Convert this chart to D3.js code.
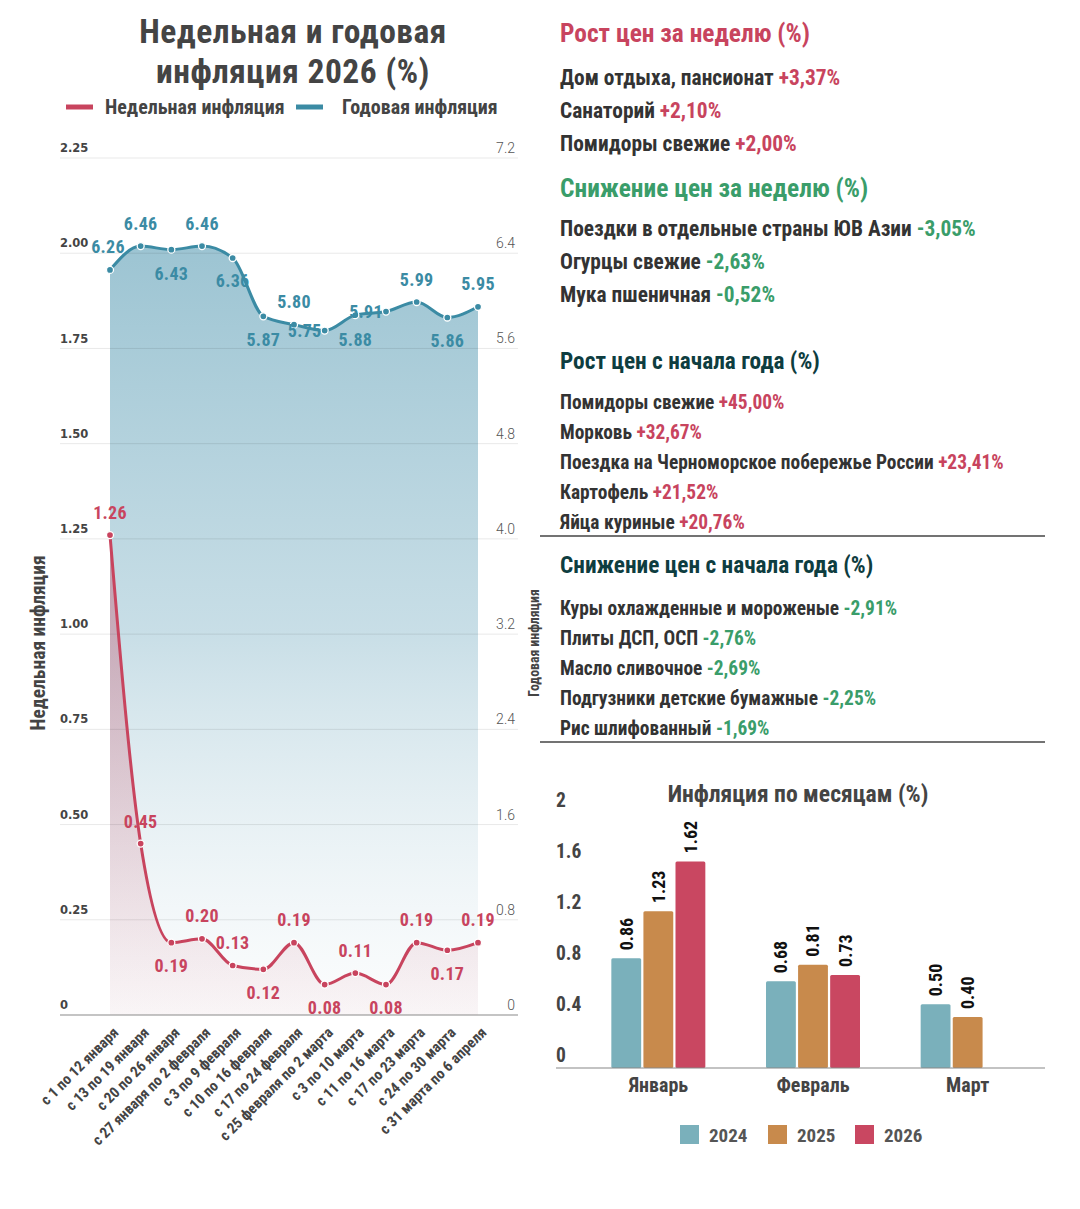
<!DOCTYPE html>
<html><head><meta charset="utf-8">
<script src="https://cdn.jsdelivr.net/npm/d3@7/dist/d3.min.js"></script>
<style>html,body{margin:0;padding:0;background:#fff;}svg{display:block;}</style>
</head><body>
<svg id="c" width="1080" height="1209"></svg>
<script>
// ---------- DATA ----------
const weeks = ["с 1 по 12 января","с 13 по 19 января","с 20 по 26 января","с 27 января по 2 февраля","с 3 по 9 февраля","с 10 по 16 февраля","с 17 по 24 февраля","с 25 февраля по 2 марта","с 3 по 10 марта","с 11 по 16 марта","с 17 по 23 марта","с 24 по 30 марта","с 31 марта по 6 апреля"];
const weekly = [1.26,0.45,0.19,0.20,0.13,0.12,0.19,0.08,0.11,0.08,0.19,0.17,0.19];
const annual = [6.26,6.46,6.43,6.46,6.36,5.87,5.80,5.75,5.88,5.91,5.99,5.86,5.95];
const weeklyTicks = [0,0.25,0.5,0.75,1,1.25,1.5,1.75,2,2.25];
const weeklyTickLabels = ["0","0.25","0.50","0.75","1.00","1.25","1.50","1.75","2.00","2.25"];
const annualTicks = [0,0.8,1.6,2.4,3.2,4.0,4.8,5.6,6.4,7.2];
const annualTickLabels = ["0","0.8","1.6","2.4","3.2","4.0","4.8","5.6","6.4","7.2"];

const months = ["Январь","Февраль","Март"];
const years = ["2024","2025","2026"];
const monthly2024 = [0.86,0.68,0.50];
const monthly2025 = [1.23,0.81,0.40];
const monthly2026 = [1.62,0.73,null];
const monthTicks = [0,0.4,0.8,1.2,1.6,2];
const monthTickLabels = ["0","0.4","0.8","1.2","1.6","2"];

const weekUpTitle = "Рост цен за неделю (%)";
const weekUpNames = ["Дом отдыха, пансионат","Санаторий","Помидоры свежие"];
const weekUpVals = ["+3,37%","+2,10%","+2,00%"];
const weekDownTitle = "Снижение цен за неделю (%)";
const weekDownNames = ["Поездки в отдельные страны ЮВ Азии","Огурцы свежие","Мука пшеничная"];
const weekDownVals = ["-3,05%","-2,63%","-0,52%"];
const yearUpTitle = "Рост цен с начала года (%)";
const yearUpNames = ["Помидоры свежие","Морковь","Поездка на Черноморское побережье России","Картофель","Яйца куриные"];
const yearUpVals = ["+45,00%","+32,67%","+23,41%","+21,52%","+20,76%"];
const yearDownTitle = "Снижение цен с начала года (%)";
const yearDownNames = ["Куры охлажденные и мороженые","Плиты ДСП, ОСП","Масло сливочное","Подгузники детские бумажные","Рис шлифованный"];
const yearDownVals = ["-2,91%","-2,76%","-2,69%","-2,25%","-1,69%"];

// ---------- FONT PICK ----------
function pick(cands, weight){
  const c=document.createElement('canvas').getContext('2d');
  const t='Недельная инфляция 0123456789';
  c.font=weight+' 40px monospace'; const b1=c.measureText(t).width;
  c.font=weight+' 40px serif'; const b2=c.measureText(t).width;
  for(const f of cands){
    c.font=weight+' 40px "'+f+'", monospace'; const w1=c.measureText(t).width;
    c.font=weight+' 40px "'+f+'", serif'; const w2=c.measureText(t).width;
    if(Math.abs(w1-w2)<0.5 && (Math.abs(w1-b1)>0.5)) return f;
  }
  return cands[cands.length-1];
}
const COND = pick(["Roboto Condensed","Liberation Sans Narrow","Arial Narrow","DejaVu Sans Condensed","Roboto"],"bold");
const CF = '"'+COND+'", "Roboto", sans-serif';
const WIDE = '"DejaVu Sans", Verdana, sans-serif';
const LIGHT = '"Roboto", "Liberation Sans", sans-serif';

const RED="#c8445e", BLUE="#3b8ba4", GREEN="#3a9d6a", DARK="#444", TEAL="#0e3d40";
const C2024="#7ab0bb", C2025="#c88a4c", C2026="#c94761";

const svg=d3.select("#c");
const defs=svg.append("defs");

// ---------- LEFT CHART ----------
const x=d3.scalePoint().domain(weeks).range([110,478]);
const yW=d3.scaleLinear().domain([0,2.25]).range([1015,158]);
const yA=d3.scaleLinear().domain([0,7.2]).range([1015,158]);

svg.append("text").attr("x",293).attr("y",31).attr("dy","0.36em").attr("text-anchor","middle")
  .style("font-family",CF).style("font-weight","bold").style("font-size","33.5px").style("letter-spacing","0.5px").attr("fill",DARK).text("Недельная и годовая");
svg.append("text").attr("x",293).attr("y",71).attr("dy","0.36em").attr("text-anchor","middle")
  .style("font-family",CF).style("font-weight","bold").style("font-size","33.5px").style("letter-spacing","0.5px").attr("fill",DARK).text("инфляция 2026 (%)");

// legend
const lg=svg.append("g");
lg.append("line").attr("x1",66).attr("x2",93).attr("y1",107).attr("y2",107).attr("stroke",RED).attr("stroke-width",5);
lg.append("text").attr("x",105).attr("y",107).attr("dy","0.36em").style("font-family",CF).style("font-weight","bold").style("font-size","20px").attr("fill",DARK).text("Недельная инфляция");
lg.append("line").attr("x1",296).attr("x2",323).attr("y1",107).attr("y2",107).attr("stroke",BLUE).attr("stroke-width",5);
lg.append("text").attr("x",342).attr("y",107).attr("dy","0.36em").style("font-family",CF).style("font-weight","bold").style("font-size","20px").attr("fill",DARK).text("Годовая инфляция");

// gradients
const gA=defs.append("linearGradient").attr("id","gA").attr("gradientUnits","userSpaceOnUse").attr("x1",0).attr("x2",0).attr("y1",yA(6.46)).attr("y2",yA(0));
gA.append("stop").attr("offset",0).attr("stop-color","#97c1d0").attr("stop-opacity",0.95);
gA.append("stop").attr("offset",0.5).attr("stop-color","#bed8e2").attr("stop-opacity",0.85);
gA.append("stop").attr("offset",1).attr("stop-color","#f6f9fa").attr("stop-opacity",0.4);
const gW=defs.append("linearGradient").attr("id","gW").attr("gradientUnits","userSpaceOnUse").attr("x1",0).attr("x2",0).attr("y1",yW(1.26)).attr("y2",yW(0));
gW.append("stop").attr("offset",0).attr("stop-color",RED).attr("stop-opacity",0.4);
gW.append("stop").attr("offset",1).attr("stop-color",RED).attr("stop-opacity",0.04);

const curve=d3.curveMonotoneX;
svg.append("path").datum(annual).attr("fill","url(#gA)")
  .attr("d",d3.area().x((d,i)=>x(weeks[i])).y0(yA(0)).y1(d=>yA(d)).curve(curve));
svg.append("path").datum(weekly).attr("fill","url(#gW)")
  .attr("d",d3.area().x((d,i)=>x(weeks[i])).y0(yW(0)).y1(d=>yW(d)).curve(curve));

// gridlines (over the fills)
svg.append("g").selectAll("line").data(weeklyTicks.slice(1)).join("line")
  .attr("x1",60).attr("x2",518).attr("y1",d=>yW(d)).attr("y2",d=>yW(d)).attr("stroke","#000").attr("stroke-opacity",0.09).attr("stroke-width",1);

// baseline
svg.append("line").attr("x1",60).attr("x2",518).attr("y1",yW(0)).attr("y2",yW(0)).attr("stroke","#8a8a8a").attr("stroke-width",1.2);

svg.append("path").datum(annual).attr("fill","none").attr("stroke",BLUE).attr("stroke-width",3)
  .attr("d",d3.line().x((d,i)=>x(weeks[i])).y(d=>yA(d)).curve(curve));
svg.append("path").datum(weekly).attr("fill","none").attr("stroke",RED).attr("stroke-width",3)
  .attr("d",d3.line().x((d,i)=>x(weeks[i])).y(d=>yW(d)).curve(curve));

svg.append("g").selectAll("circle").data(annual).join("circle")
  .attr("cx",(d,i)=>x(weeks[i])).attr("cy",d=>yA(d)).attr("r",3.5).attr("fill",BLUE).attr("stroke","#fff").attr("stroke-width",1.3);
svg.append("g").selectAll("circle").data(weekly).join("circle")
  .attr("cx",(d,i)=>x(weeks[i])).attr("cy",d=>yW(d)).attr("r",3.5).attr("fill",RED).attr("stroke","#fff").attr("stroke-width",1.3);

// value labels (placement: offsets relative to point)
const annualLab=[[-2,-23],[0,-23],[0,24],[0,-23],[0,23],[0,23],[0,-23],[-20,0],[0,24],[-20,0],[0,-23],[0,23],[0,-23]];
const weeklyLab=[[0,-23],[0,-22],[0,23],[0,-23],[0,-23],[0,23],[0,-23],[0,23],[0,-23],[0,23],[0,-23],[0,23],[0,-23]];
svg.append("g").selectAll("text").data(annual).join("text")
  .attr("x",(d,i)=>x(weeks[i])+annualLab[i][0]).attr("y",(d,i)=>yA(d)+annualLab[i][1]).attr("dy","0.36em").attr("text-anchor","middle")
  .style("font-family",CF).style("font-weight","bold").style("font-size","18px").style("letter-spacing","0.3px").attr("fill",BLUE).text(d=>d.toFixed(2));
svg.append("g").selectAll("text").data(weekly).join("text")
  .attr("x",(d,i)=>x(weeks[i])+weeklyLab[i][0]).attr("y",(d,i)=>yW(d)+weeklyLab[i][1]).attr("dy","0.36em").attr("text-anchor","middle")
  .style("font-family",CF).style("font-weight","bold").style("font-size","18px").style("letter-spacing","0.3px").attr("fill",RED).text(d=>d.toFixed(2));

// y tick labels
svg.append("g").selectAll("text").data(weeklyTicks).join("text")
  .attr("x",60).attr("y",d=>yW(d)-10).attr("dy","0.36em")
  .style("font-family",WIDE).style("font-weight","bold").style("font-size","11.5px").attr("fill",DARK).text((d,i)=>weeklyTickLabels[i]);
svg.append("g").selectAll("text").data(annualTicks).join("text")
  .attr("x",515).attr("y",d=>yA(d)-10).attr("dy","0.36em").attr("text-anchor","end")
  .style("font-family",LIGHT).style("font-weight","300").style("font-size","14px").attr("fill","#555").text((d,i)=>annualTickLabels[i]);

// axis titles
svg.append("text").attr("transform","translate(38,643) rotate(-90)").attr("dy","0.36em").attr("text-anchor","middle")
  .style("font-family",CF).style("font-weight","bold").style("font-size","19.5px").attr("fill",DARK).text("Недельная инфляция");
svg.append("text").attr("transform","translate(534,643) rotate(-90)").attr("dy","0.36em").attr("text-anchor","middle")
  .style("font-family",CF).style("font-weight","bold").style("font-size","13.8px").attr("fill",DARK).text("Годовая инфляция");

// x labels
svg.append("g").selectAll("text").data(weeks).join("text")
  .attr("transform",d=>`translate(${x(d)+2},1026) rotate(-45)`).attr("text-anchor","end").attr("dy","0.7em")
  .style("font-family",CF).style("font-weight","bold").style("font-size","15px").attr("fill",DARK).text(d=>d);

// ---------- RIGHT TEXT PANELS ----------
function block(title,titleColor,titleY,titleSize,names,vals,valColor,itemY0,step,size){
  svg.append("text").attr("x",560).attr("y",titleY).attr("dy","0.36em")
    .style("font-family",CF).style("font-weight","bold").style("font-size",titleSize+"px").attr("fill",titleColor).text(title);
  const t=svg.append("g").selectAll("text").data(names).join("text")
    .attr("x",560).attr("y",(d,i)=>itemY0+i*step).attr("dy","0.36em")
    .style("font-family",CF).style("font-weight","bold").style("font-size",size+"px").attr("fill","#333");
  t.append("tspan").text(d=>d+" ");
  t.append("tspan").attr("fill",valColor).text((d,i)=>vals[i]);
}
block(weekUpTitle,RED,33,25.4,weekUpNames,weekUpVals,RED,77,33,21.4);
block(weekDownTitle,GREEN,188,25.4,weekDownNames,weekDownVals,GREEN,228,33,21.4);
block(yearUpTitle,TEAL,361,23.3,yearUpNames,yearUpVals,RED,402,30,19.4);
block(yearDownTitle,TEAL,565,23.3,yearDownNames,yearDownVals,GREEN,608,30,19.4);
svg.append("line").attr("x1",540).attr("x2",1045).attr("y1",536).attr("y2",536).attr("stroke","#444").attr("stroke-width",1.5);
svg.append("line").attr("x1",540).attr("x2",1045).attr("y1",742).attr("y2",742).attr("stroke","#444").attr("stroke-width",1.5);

// ---------- BAR CHART ----------
svg.append("text").attr("x",798).attr("y",793).attr("dy","0.36em").attr("text-anchor","middle")
  .style("font-family",CF).style("font-weight","bold").style("font-size","23.7px").attr("fill",DARK).text("Инфляция по месяцам (%)");
const xb=d3.scaleBand().domain(months).range([581,1045]).padding(0);
const xs=d3.scaleBand().domain(years).range([-47,47]).paddingInner(0.07);
const yb=d3.scaleLinear().domain([0,2]).range([1068,813]);
const series=[monthly2024,monthly2025,monthly2026];
const colors=[C2024,C2025,C2026];
const barData=[];
months.forEach((m,mi)=>years.forEach((yr,yi)=>{ const v=series[yi][mi]; if(v!=null) barData.push({m,yr,v,c:colors[yi]}); }));

svg.append("g").selectAll("text").data(monthTicks).join("text")
  .attr("x",556).attr("y",d=>yb(d)-13).attr("dy","0.36em")
  .style("font-family",CF).style("font-weight","bold").style("font-size","19.5px").attr("fill",DARK).text((d,i)=>monthTickLabels[i]);

svg.append("g").selectAll("rect").data(barData).join("rect")
  .attr("x",d=>xb(d.m)+xb.bandwidth()/2+xs(d.yr)).attr("width",xs.bandwidth())
  .attr("y",d=>yb(d.v)).attr("height",d=>yb(0)-yb(d.v)).attr("fill",d=>d.c).attr("rx",1.5);
svg.append("g").selectAll("text").data(barData).join("text")
  .attr("transform",d=>`translate(${xb(d.m)+xb.bandwidth()/2+xs(d.yr)+xs.bandwidth()/2},${yb(d.v)-8}) rotate(-90)`)
  .attr("dy","0.36em").style("font-family",CF).style("font-weight","bold").style("font-size","18px").attr("fill","#111").text(d=>d.v.toFixed(2));

svg.append("line").attr("x1",556).attr("x2",1045).attr("y1",yb(0)).attr("y2",yb(0)).attr("stroke","#888").attr("stroke-width",1.2);
svg.append("g").selectAll("text").data(months).join("text")
  .attr("x",d=>xb(d)+xb.bandwidth()/2).attr("y",1085).attr("dy","0.36em").attr("text-anchor","middle")
  .style("font-family",CF).style("font-weight","bold").style("font-size","20px").attr("fill",DARK).text(d=>d);

// legend
const legX=[680,768,855];
const bl=svg.append("g").selectAll("g").data(years).join("g").attr("transform",(d,i)=>`translate(${legX[i]},1125)`);
bl.append("rect").attr("width",19).attr("height",19).attr("fill",(d,i)=>colors[i]);
bl.append("text").attr("x",29).attr("y",10).attr("dy","0.36em")
  .style("font-family",CF).style("font-weight","bold").style("font-size","19px").attr("fill","#555").text(d=>d);
</script>
</body></html>
